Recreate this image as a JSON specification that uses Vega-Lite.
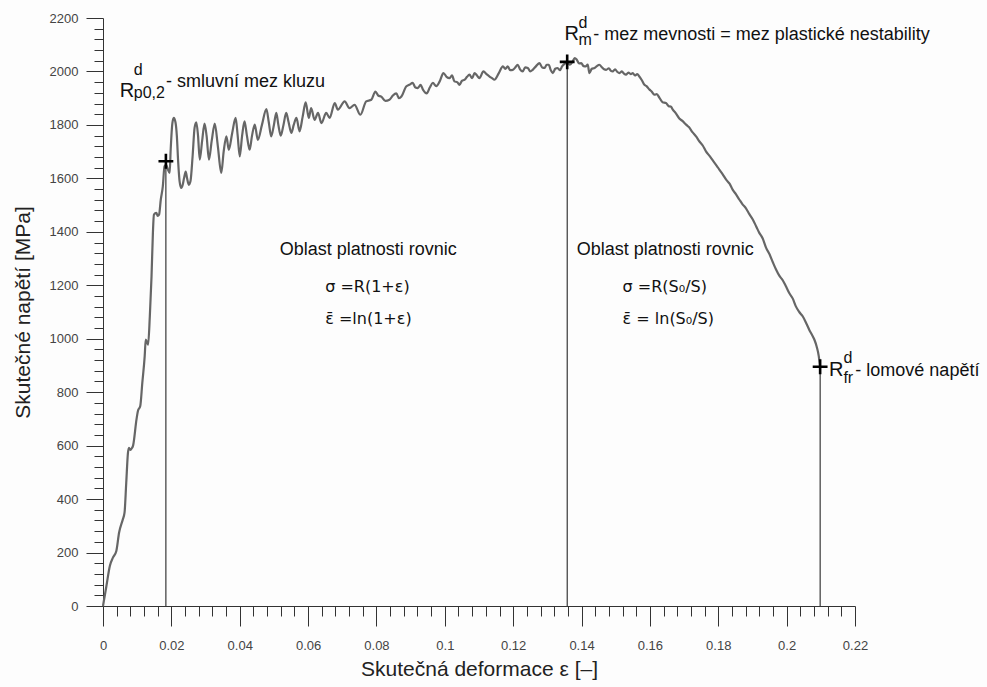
{
  "$schema": "https://vega.github.io/schema/vega-lite/v6.json",
  "width": 752,
  "height": 588,
  "autosize": "none",
  "padding": {"left": 103, "top": 18, "right": 132, "bottom": 81},
  "background": "#fdfdfd",
  "config": {
    "view": {"stroke": null},
    "font": "Liberation Sans, Arial, sans-serif",
    "axis": {"grid": false, "domainColor": "#333333", "tickColor": "#333333", "labelColor": "#444444", "labelFont": "Liberation Sans, Arial, sans-serif", "labelFontSize": 13, "titleFont": "Liberation Sans, Arial, sans-serif", "titleFontSize": 21, "titleFontWeight": "normal", "titleColor": "#222222", "tickCount": 200}
  },
  "datasets": {
    "curve": [
      {"x":0.0000,"y":0},{"x":0.0010,"y":75},{"x":0.0020,"y":150},{"x":0.0029,"y":181},{"x":0.0039,"y":206},{"x":0.0047,"y":274},{"x":0.0058,"y":324},{"x":0.0063,"y":349},{"x":0.0068,"y":461},{"x":0.0073,"y":573},{"x":0.0076,"y":592},{"x":0.0080,"y":584},{"x":0.0083,"y":588},{"x":0.0088,"y":600},{"x":0.0098,"y":698},{"x":0.0102,"y":729},{"x":0.0109,"y":748},{"x":0.0115,"y":835},{"x":0.0122,"y":935},{"x":0.0125,"y":997},{"x":0.0129,"y":985},{"x":0.0132,"y":978},{"x":0.0137,"y":1084},{"x":0.0142,"y":1234},{"x":0.0146,"y":1396},{"x":0.0149,"y":1464},{"x":0.0156,"y":1471},{"x":0.0160,"y":1460},{"x":0.0164,"y":1464},{"x":0.0169,"y":1520},{"x":0.0175,"y":1570},{"x":0.0180,"y":1645},{"x":0.0185,"y":1651},{"x":0.0190,"y":1633},{"x":0.0195,"y":1620},{"x":0.0198,"y":1707},{"x":0.0203,"y":1807},{"x":0.0207,"y":1826},{"x":0.0212,"y":1810},{"x":0.0216,"y":1760},{"x":0.0220,"y":1660},{"x":0.0224,"y":1590},{"x":0.0229,"y":1564},{"x":0.0233,"y":1575},{"x":0.0237,"y":1600},{"x":0.0242,"y":1625},{"x":0.0246,"y":1600},{"x":0.0251,"y":1576},{"x":0.0256,"y":1590},{"x":0.0262,"y":1680},{"x":0.0268,"y":1790},{"x":0.0273,"y":1810},{"x":0.0278,"y":1760},{"x":0.0283,"y":1670},{"x":0.0290,"y":1740},{"x":0.0297,"y":1805},{"x":0.0303,"y":1760},{"x":0.0310,"y":1670},{"x":0.0318,"y":1740},{"x":0.0327,"y":1805},{"x":0.0336,"y":1720},{"x":0.0346,"y":1620},{"x":0.0353,"y":1700},{"x":0.0361,"y":1757},{"x":0.0368,"y":1707},{"x":0.0378,"y":1770},{"x":0.0388,"y":1826},{"x":0.0394,"y":1760},{"x":0.0400,"y":1682},{"x":0.0407,"y":1760},{"x":0.0414,"y":1813},{"x":0.0421,"y":1760},{"x":0.0429,"y":1707},{"x":0.0436,"y":1760},{"x":0.0444,"y":1801},{"x":0.0453,"y":1744},{"x":0.0465,"y":1800},{"x":0.0478,"y":1859},{"x":0.0485,"y":1810},{"x":0.0492,"y":1757},{"x":0.0500,"y":1800},{"x":0.0507,"y":1845},{"x":0.0513,"y":1800},{"x":0.0520,"y":1760},{"x":0.0528,"y":1800},{"x":0.0536,"y":1845},{"x":0.0543,"y":1810},{"x":0.0551,"y":1770},{"x":0.0558,"y":1800},{"x":0.0566,"y":1826},{"x":0.0575,"y":1776},{"x":0.0584,"y":1830},{"x":0.0593,"y":1884},{"x":0.0602,"y":1826},{"x":0.0609,"y":1863},{"x":0.0619,"y":1819},{"x":0.0629,"y":1845},{"x":0.0639,"y":1807},{"x":0.0653,"y":1845},{"x":0.0663,"y":1826},{"x":0.0678,"y":1882},{"x":0.0687,"y":1857},{"x":0.0707,"y":1888},{"x":0.0721,"y":1863},{"x":0.0736,"y":1875},{"x":0.0753,"y":1838},{"x":0.0770,"y":1888},{"x":0.0785,"y":1894},{"x":0.0797,"y":1925},{"x":0.0805,"y":1910},{"x":0.0814,"y":1906},{"x":0.0826,"y":1890},{"x":0.0838,"y":1894},{"x":0.0848,"y":1910},{"x":0.0858,"y":1918},{"x":0.0866,"y":1900},{"x":0.0873,"y":1906},{"x":0.0887,"y":1944},{"x":0.0896,"y":1950},{"x":0.0906,"y":1957},{"x":0.0914,"y":1940},{"x":0.0921,"y":1938},{"x":0.0929,"y":1950},{"x":0.0936,"y":1932},{"x":0.0947,"y":1918},{"x":0.0956,"y":1940},{"x":0.0965,"y":1957},{"x":0.0975,"y":1945},{"x":0.0985,"y":1963},{"x":0.0996,"y":1994},{"x":0.1005,"y":1980},{"x":0.1014,"y":1975},{"x":0.1021,"y":1985},{"x":0.1028,"y":1963},{"x":0.1036,"y":1960},{"x":0.1043,"y":1950},{"x":0.1050,"y":1965},{"x":0.1058,"y":1969},{"x":0.1065,"y":1980},{"x":0.1072,"y":1988},{"x":0.1080,"y":1975},{"x":0.1087,"y":1994},{"x":0.1094,"y":1985},{"x":0.1101,"y":1975},{"x":0.1113,"y":2000},{"x":0.1122,"y":1990},{"x":0.1131,"y":1981},{"x":0.1138,"y":1975},{"x":0.1145,"y":1969},{"x":0.1158,"y":1994},{"x":0.1170,"y":2019},{"x":0.1177,"y":2010},{"x":0.1184,"y":2019},{"x":0.1191,"y":2005},{"x":0.1199,"y":2006},{"x":0.1206,"y":2015},{"x":0.1213,"y":2025},{"x":0.1220,"y":2008},{"x":0.1228,"y":2000},{"x":0.1235,"y":2015},{"x":0.1243,"y":2013},{"x":0.1250,"y":2000},{"x":0.1257,"y":2006},{"x":0.1267,"y":2020},{"x":0.1277,"y":2031},{"x":0.1285,"y":2015},{"x":0.1292,"y":2013},{"x":0.1298,"y":2025},{"x":0.1304,"y":2025},{"x":0.1310,"y":2005},{"x":0.1316,"y":1994},{"x":0.1323,"y":2010},{"x":0.1330,"y":2013},{"x":0.1337,"y":2005},{"x":0.1343,"y":2019},{"x":0.1350,"y":2028},{"x":0.1358,"y":2034},{"x":0.1366,"y":2025},{"x":0.1374,"y":2037},{"x":0.1380,"y":2050},{"x":0.1386,"y":2044},{"x":0.1393,"y":2030},{"x":0.1399,"y":2031},{"x":0.1406,"y":2020},{"x":0.1413,"y":2019},{"x":0.1418,"y":2026},{"x":0.1423,"y":1994},{"x":0.1430,"y":2010},{"x":0.1438,"y":2013},{"x":0.1445,"y":2020},{"x":0.1452,"y":2025},{"x":0.1460,"y":2015},{"x":0.1466,"y":2008},{"x":0.1472,"y":2006},{"x":0.1480,"y":2012},{"x":0.1486,"y":2002},{"x":0.1491,"y":2000},{"x":0.1498,"y":2008},{"x":0.1505,"y":1998},{"x":0.1511,"y":1994},{"x":0.1518,"y":2000},{"x":0.1524,"y":1992},{"x":0.1530,"y":1988},{"x":0.1537,"y":1996},{"x":0.1544,"y":1990},{"x":0.1550,"y":1994},{"x":0.1556,"y":1985},{"x":0.1563,"y":1990},{"x":0.1569,"y":1981},{"x":0.1576,"y":1968},{"x":0.1584,"y":1950},{"x":0.1590,"y":1945},{"x":0.1599,"y":1932},{"x":0.1605,"y":1925},{"x":0.1613,"y":1913},{"x":0.1620,"y":1915},{"x":0.1628,"y":1901},{"x":0.1637,"y":1885},{"x":0.1647,"y":1882},{"x":0.1655,"y":1870},{"x":0.1662,"y":1868},{"x":0.1667,"y":1857},{"x":0.1675,"y":1845},{"x":0.1686,"y":1824},{"x":0.1695,"y":1815},{"x":0.1706,"y":1801},{"x":0.1714,"y":1792},{"x":0.1725,"y":1772},{"x":0.1735,"y":1757},{"x":0.1745,"y":1738},{"x":0.1755,"y":1722},{"x":0.1764,"y":1701},{"x":0.1775,"y":1683},{"x":0.1784,"y":1667},{"x":0.1795,"y":1648},{"x":0.1803,"y":1633},{"x":0.1813,"y":1615},{"x":0.1823,"y":1595},{"x":0.1833,"y":1580},{"x":0.1842,"y":1558},{"x":0.1852,"y":1540},{"x":0.1862,"y":1520},{"x":0.1871,"y":1503},{"x":0.1881,"y":1488},{"x":0.1891,"y":1466},{"x":0.1901,"y":1446},{"x":0.1911,"y":1420},{"x":0.1920,"y":1396},{"x":0.1930,"y":1375},{"x":0.1940,"y":1340},{"x":0.1950,"y":1316},{"x":0.1960,"y":1285},{"x":0.1969,"y":1259},{"x":0.1979,"y":1235},{"x":0.1989,"y":1218},{"x":0.1998,"y":1196},{"x":0.2008,"y":1170},{"x":0.2018,"y":1150},{"x":0.2027,"y":1121},{"x":0.2037,"y":1100},{"x":0.2047,"y":1084},{"x":0.2057,"y":1059},{"x":0.2066,"y":1034},{"x":0.2074,"y":1015},{"x":0.2081,"y":997},{"x":0.2088,"y":970},{"x":0.2094,"y":935},{"x":0.2096,"y":915},{"x":0.2098,"y":895}
    ],
    "marks": [
      {"x": 0.0184, "y": 1664},
      {"x": 0.1358, "y": 2036},
      {"x": 0.2098, "y": 895}
    ],
    "rsym": [
      {"x": 0.00489, "y": 1905, "t": "R"},
      {"x": 0.1350, "y": 2118, "t": "R"},
      {"x": 0.2124, "y": 859, "t": "R"}
    ],
    "scripts": [
      {"x": 0.0090, "y": 1987, "t": "d"},
      {"x": 0.0090, "y": 1900, "t": "p0,2"},
      {"x": 0.1391, "y": 2163, "t": "d"},
      {"x": 0.1391, "y": 2100, "t": "m"},
      {"x": 0.2166, "y": 911, "t": "d"},
      {"x": 0.2166, "y": 836, "t": "fr"}
    ],
    "labels": [
      {"x": 0.01845, "y": 1943, "t": "- smluvní mez kluzu"},
      {"x": 0.1434, "y": 2118, "t": "- mez mevnosti = mez plastické nestability"},
      {"x": 0.2201, "y": 859, "t": "- lomové napětí"}
    ],
    "heads": [
      {"x": 0.0517, "y": 1333, "t": "Oblast platnosti rovnic"},
      {"x": 0.1386, "y": 1333, "t": "Oblast platnosti rovnic"}
    ],
    "formulas": [
      {"x": 0.0650, "y": 1195, "t": "σ =R(1+ε)"},
      {"x": 0.0650, "y": 1072, "t": "ε̄ =ln(1+ε)"},
      {"x": 0.1520, "y": 1195, "t": "σ =R(S₀/S)"},
      {"x": 0.1520, "y": 1072, "t": "ε̄ = ln(S₀/S)"}
    ]
  },
  "layer": [
    {
      "data": {"name": "curve"},
      "mark": {"type": "line", "color": "#666666", "strokeWidth": 2.2, "interpolate": "monotone"},
      "encoding": {
        "x": {"field": "x", "type": "quantitative", "scale": {"domain": [0, 0.22], "nice": false},
          "axis": {"title": "Skutečná deformace ε [–]", "tickCount": 200,
            "values": [0,0.004,0.008,0.012,0.016,0.02,0.024,0.028,0.032,0.036,0.04,0.044,0.048,0.052,0.056,0.06,0.064,0.068,0.072,0.076,0.08,0.084,0.088,0.092,0.096,0.1,0.104,0.108,0.112,0.116,0.12,0.124,0.128,0.132,0.136,0.14,0.144,0.148,0.152,0.156,0.16,0.164,0.168,0.172,0.176,0.18,0.184,0.188,0.192,0.196,0.2,0.204,0.208,0.212,0.216,0.22],
            "tickSize": {"condition": {"test": "abs(datum.value*50 - round(datum.value*50)) < 0.000001", "value": 20}, "value": 10},
            "labelExpr": "abs(datum.value*50 - round(datum.value*50)) < 0.000001 ? format(datum.value, '~g') : ''",
            "labelPadding": 13, "labelFlush": false, "labelOverlap": false, "titlePadding": 6}},
        "y": {"field": "y", "type": "quantitative", "scale": {"domain": [0, 2200], "nice": false},
          "axis": {"title": "Skutečné napětí [MPa]", "tickCount": 200,
            "values": [0,40,80,120,160,200,240,280,320,360,400,440,480,520,560,600,640,680,720,760,800,840,880,920,960,1000,1040,1080,1120,1160,1200,1240,1280,1320,1360,1400,1440,1480,1520,1560,1600,1640,1680,1720,1760,1800,1840,1880,1920,1960,2000,2040,2080,2120,2160,2200],
            "tickSize": {"condition": {"test": "datum.value % 200 === 0", "value": 17}, "value": 9},
            "labelExpr": "datum.value % 200 === 0 ? format(datum.value, 'd') : ''",
            "labelPadding": 8, "labelFlush": false, "labelOverlap": false, "titlePadding": 16}}
      }
    },
    {
      "data": {"name": "marks"},
      "mark": {"type": "rule", "color": "#111111", "strokeWidth": 1},
      "encoding": {
        "x": {"field": "x", "type": "quantitative"},
        "y": {"field": "y", "type": "quantitative"},
        "y2": {"datum": 0}
      }
    },
    {
      "data": {"name": "marks"},
      "mark": {"type": "point", "shape": "M-1,0H1M0,-1V1", "size": 220, "stroke": "#000000", "strokeWidth": 2.6, "filled": false, "opacity": 1},
      "encoding": {
        "x": {"field": "x", "type": "quantitative"},
        "y": {"field": "y", "type": "quantitative"}
      }
    },
    {
      "data": {"name": "rsym"},
      "mark": {"type": "text", "align": "left", "baseline": "alphabetic", "fontSize": 20, "color": "#111111"},
      "encoding": {
        "x": {"field": "x", "type": "quantitative"},
        "y": {"field": "y", "type": "quantitative"},
        "text": {"field": "t"}
      }
    },
    {
      "data": {"name": "scripts"},
      "mark": {"type": "text", "align": "left", "baseline": "alphabetic", "fontSize": 16, "color": "#111111"},
      "encoding": {
        "x": {"field": "x", "type": "quantitative"},
        "y": {"field": "y", "type": "quantitative"},
        "text": {"field": "t"}
      }
    },
    {
      "data": {"name": "labels"},
      "mark": {"type": "text", "align": "left", "baseline": "alphabetic", "fontSize": 18, "color": "#111111"},
      "encoding": {
        "x": {"field": "x", "type": "quantitative"},
        "y": {"field": "y", "type": "quantitative"},
        "text": {"field": "t"}
      }
    },
    {
      "data": {"name": "heads"},
      "mark": {"type": "text", "align": "left", "baseline": "middle", "fontSize": 18, "color": "#111111"},
      "encoding": {
        "x": {"field": "x", "type": "quantitative"},
        "y": {"field": "y", "type": "quantitative"},
        "text": {"field": "t"}
      }
    },
    {
      "data": {"name": "formulas"},
      "mark": {"type": "text", "align": "left", "baseline": "middle", "fontSize": 16, "font": "DejaVu Sans", "color": "#111111"},
      "encoding": {
        "x": {"field": "x", "type": "quantitative"},
        "y": {"field": "y", "type": "quantitative"},
        "text": {"field": "t"}
      }
    }
  ]
}
